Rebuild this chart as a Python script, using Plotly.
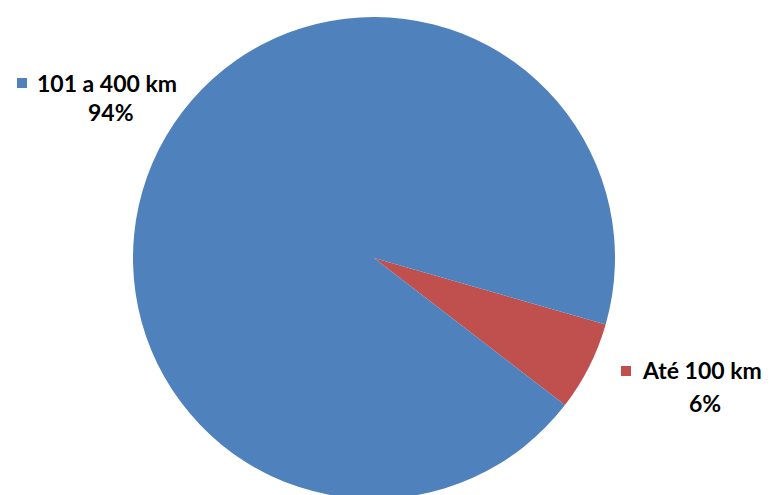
import plotly.graph_objects as go

labels = ["Até 100 km", "101 a 400 km"]
values = [6, 94]
colors = ["#C0504D", "#4F81BD"]

W, H = 774, 495
OFF = 8  # page body margin offset
cxp, cyp, r = 374 - OFF, 258 - OFF, 241

fig = go.Figure(go.Pie(
    labels=labels, values=values, sort=False, direction="clockwise",
    rotation=106, marker=dict(colors=colors, line=dict(width=0)),
    textinfo="none", hoverinfo="label+percent",
    domain=dict(x=[(cxp - 300) / W, (cxp + 300) / W],
                y=[(H - cyp - r) / H, (H - cyp + r) / H]),
))

font = dict(family="Lato, Open Sans, sans-serif", size=23, color="#000000")
pos = {"101 a 400 km": (35, 83, 111, 112), "Até 100 km": (640, 370, 705, 403)}
sq = {"101 a 400 km": (22, 83), "Até 100 km": (626, 371)}
total = sum(values)
for lab, val, col in zip(labels, values, colors):
    x1, y1, x2, y2 = pos[lab]
    fig.add_annotation(x=(x1 - OFF) / W, y=1 - (y1 - OFF) / H, xref="paper", yref="paper",
                       text=f"<b>{lab}</b>", showarrow=False, xanchor="left",
                       yanchor="middle", font=font)
    fig.add_annotation(x=(x2 - OFF) / W, y=1 - (y2 - OFF) / H, xref="paper", yref="paper",
                       text=f"<b>{round(val / total * 100)}%</b>", showarrow=False,
                       xanchor="center", yanchor="middle", font=font)
    cx, cy = sq[lab]
    cx -= OFF
    cy -= OFF
    fig.add_shape(type="rect", xref="paper", yref="paper",
                  x0=(cx - 5) / W, x1=(cx + 5) / W, y0=1 - (cy + 5) / H, y1=1 - (cy - 5) / H,
                  fillcolor=col, line=dict(width=0))

fig.update_layout(width=W, height=H, margin=dict(l=0, r=0, t=0, b=0),
                  showlegend=False, paper_bgcolor="white", plot_bgcolor="white")
fig.write_html("out.html")
